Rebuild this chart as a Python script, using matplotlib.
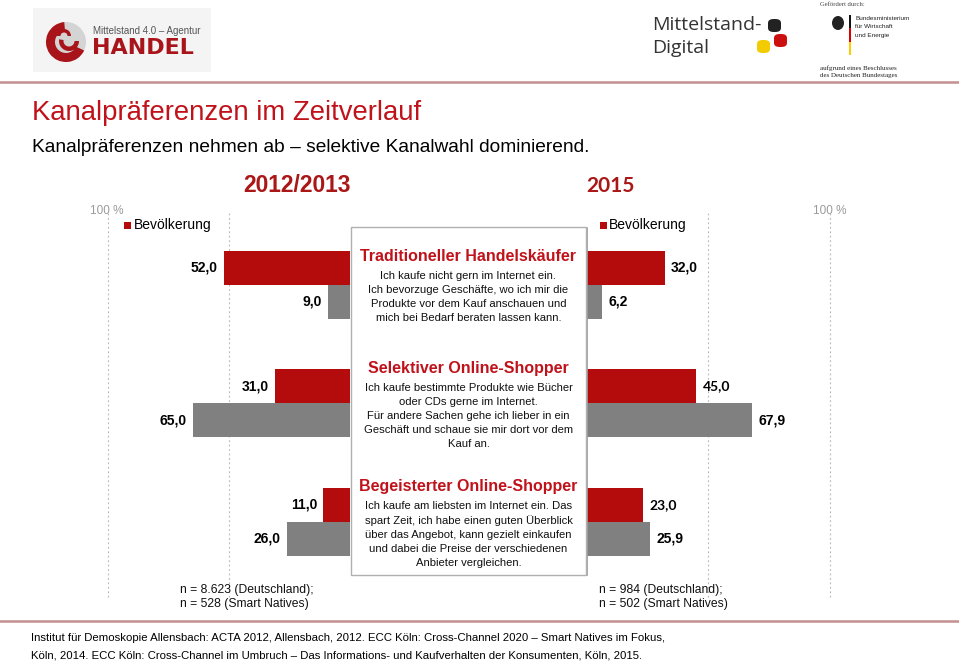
import matplotlib
matplotlib.use("Agg")
import matplotlib.pyplot as plt
from matplotlib.patches import Rectangle, Wedge, FancyBboxPatch, Ellipse, Circle
from matplotlib.lines import Line2D

plt.rcParams['font.family'] = ['Liberation Sans', 'DejaVu Sans']

# Data
segments = ["Traditioneller Handelskäufer", "Selektiver Online-Shopper", "Begeisterter Online-Shopper"]
descriptions = [
    "Ich kaufe nicht gern im Internet ein.\nIch bevorzuge Geschäfte, wo ich mir die\n"
    "Produkte vor dem Kauf anschauen und\nmich bei Bedarf beraten lassen kann.",
    "Ich kaufe bestimmte Produkte wie Bücher\noder CDs gerne im Internet.\n"
    "Für andere Sachen gehe ich lieber in ein\nGeschäft und schaue sie mir dort vor dem\nKauf an.",
    "Ich kaufe am liebsten im Internet ein. Das\nspart Zeit, ich habe einen guten Überblick\n"
    "über das Angebot, kann gezielt einkaufen\nund dabei die Preise der verschiedenen\nAnbieter vergleichen.",
]
bev_2012 = [52.0, 31.0, 11.0]
smart_2012 = [9.0, 65.0, 26.0]
bev_2015 = [32.0, 45.0, 23.0]
smart_2015 = [6.2, 67.9, 25.9]
n_2012 = "n = 8.623 (Deutschland);\nn = 528 (Smart Natives)"
n_2015 = "n = 984 (Deutschland);\nn = 502 (Smart Natives)"

RED = '#b40c0c'
GRAY = '#808080'
TITLE_RED = '#c0121a'

W, H = 959, 663
fig = plt.figure(figsize=(W / 100, H / 100), dpi=100)


def fx(x):
    return x / W


def fy(y):
    return 1 - y / H


def ftext(x, y, s, **kw):
    return fig.text(fx(x), fy(y), s, **kw)


# ---------- header logos ----------
fig.add_artist(Rectangle((fx(33), fy(72)), fx(178), 64 / H, transform=fig.transFigure,
                         color='#f4f4f4', lw=0, zorder=0))
ax_logo = fig.add_axes([fx(44), fy(64), 44 / W, 44 / H], zorder=2)
ax_logo.set_xlim(-22, 22)
ax_logo.set_ylim(-22, 22)
ax_logo.set_aspect('equal')
ax_logo.axis('off')
ax_logo.add_patch(Circle((0, 0), 20, color='#d4d4d4', lw=0))
ax_logo.add_patch(Wedge((0, 0), 20, 95, 335, width=9, color='#a8141a', lw=0))
ax_logo.add_patch(Wedge((3, 1), 10, 170, 360, width=4.5, color='#a8141a', lw=0))
ax_logo.add_patch(Wedge((-2, 6), 7, 0, 180, width=3.5, color='#a8141a', lw=0))
ftext(93, 31, "Mittelstand 4.0 – Agentur", fontsize=7, color='#555555', va='center')
ftext(92, 48, "HANDEL", fontsize=16, fontweight='bold', color='#a8141a', va='center',
      family=['DejaVu Sans'])

ftext(652, 25, "Mittelstand-", fontsize=14, color='#333333', va='center',
      family=['Open Sans', 'DejaVu Sans'])
ftext(652, 48, "Digital", fontsize=14, color='#333333', va='center',
      family=['Open Sans', 'DejaVu Sans'])
for (x0, y0, col) in [(768, 19, '#222222'), (774, 34, '#cc1010'), (757, 40, '#f2cc00')]:
    fig.add_artist(FancyBboxPatch((fx(x0), fy(y0 + 13)), 13 / W, 13 / H,
                                  boxstyle="round,pad=0,rounding_size=0.006",
                                  transform=fig.transFigure, color=col, lw=0))

ftext(820, 4, "Gefördert durch:", fontsize=4.8, color='#444444', va='center',
      family=['Liberation Serif', 'DejaVu Serif'])
fig.add_artist(Ellipse((fx(838), fy(23)), 12 / W, 14 / H, transform=fig.transFigure,
                       color='#222222', lw=0))
for (y0, y1, col) in [(15, 28, '#111111'), (28, 42, '#dd0000'), (42, 55, '#ffcc00')]:
    fig.add_artist(Rectangle((fx(849), fy(y1)), 2 / W, (y1 - y0) / H,
                             transform=fig.transFigure, color=col, lw=0))
for i, s in enumerate(["Bundesministerium", "für Wirtschaft", "und Energie"]):
    ftext(855, 19 + 8 * i, s, fontsize=4.6, color='#222222', va='center')
ftext(820, 68, "aufgrund eines Beschlusses", fontsize=5, color='#222222', va='center',
      family=['Liberation Serif', 'DejaVu Serif'])
ftext(820, 76, "des Deutschen Bundestages", fontsize=5, color='#222222', va='center',
      family=['Liberation Serif', 'DejaVu Serif'])

for yl in (82, 621):
    fig.add_artist(Line2D([0, 1], [fy(yl), fy(yl)], transform=fig.transFigure,
                          color='#c48f8f', lw=1.8))

# ---------- titles ----------
ftext(32, 113, "Kanalpräferenzen im Zeitverlauf", fontsize=19.8, color=TITLE_RED, va='center')
ftext(32, 147, "Kanalpräferenzen nehmen ab – selektive Kanalwahl dominierend.",
      fontsize=13.8, color='black', va='center')
ftext(243, 186, "2012/2013", fontsize=16.4, fontweight='bold', color='#aa1717', va='center')
ftext(586, 186, "2015", fontsize=15, fontweight='bold', color='#aa1717', va='center',
      family=['Lato', 'DejaVu Sans'])

# ---------- bar charts ----------
ax1 = fig.add_axes([fx(96), fy(597), (350 - 96) / W, (597 - 205) / H])
ax2 = fig.add_axes([fx(587), fy(597), (842 - 587) / W, (597 - 205) / H])
ax1.set_xlim(105, 0)
ax2.set_xlim(0, 105)
rows = list(range(len(segments)))
bh = 0.287
for ax, bev, smart in [(ax1, bev_2012, smart_2012), (ax2, bev_2015, smart_2015)]:
    ax.set_ylim(2.633, -0.675)
    ax.axis('off')
    ax.barh([i - bh / 2 for i in rows], bev, height=bh, color=RED, zorder=2)
    ax.barh([i + bh / 2 for i in rows], smart, height=bh, color=GRAY, zorder=2)
    for v in (50, 100):
        ax.axvline(v, ymin=0.0, ymax=0.985, color='#b5b5b5', lw=0.8,
                   linestyle=(0, (1.5, 2.5)), clip_on=False, zorder=1)

ax2.axvline(0, ymin=0.056, ymax=0.941, color='#9a9a9a', lw=1.2, zorder=3)

lab_kw = dict(fontsize=10, fontweight='bold', va='center', textcoords='offset points',
              annotation_clip=False)
for i in rows:
    ax1.annotate(f"{bev_2012[i]:.1f}".replace('.', ','), (bev_2012[i], i - bh / 2),
                 xytext=(-4.5, 0), ha='right', **lab_kw)
    ax1.annotate(f"{smart_2012[i]:.1f}".replace('.', ','), (smart_2012[i], i + bh / 2),
                 xytext=(-4.5, 0), ha='right', **lab_kw)
    fam = ['Lato', 'DejaVu Sans'] if i > 0 else ['Liberation Sans', 'DejaVu Sans']
    ax2.annotate(f"{bev_2015[i]:.1f}".replace('.', ','), (bev_2015[i], i - bh / 2),
                 xytext=(4.5, 0), ha='left', family=fam, **lab_kw)
    ax2.annotate(f"{smart_2015[i]:.1f}".replace('.', ','), (smart_2015[i], i + bh / 2),
                 xytext=(4.5, 0), ha='left', **lab_kw)

# "100 %" marks and legends
ftext(107, 211, "100 %", fontsize=8.5, color='#9a9a9a', ha='center', va='center')
ftext(830, 211, "100 %", fontsize=8.5, color='#9a9a9a', ha='center', va='center')
for (xs, xt) in [(124, 134), (600, 609)]:
    fig.add_artist(Rectangle((fx(xs), fy(229)), 7 / W, 7 / H, transform=fig.transFigure,
                             color=RED, lw=0))
    ftext(xt, 225, "Bevölkerung", fontsize=10, color='black', va='center')

# ---------- description box ----------
fig.add_artist(Rectangle((fx(351), fy(575)), (586 - 351) / W, (575 - 227) / H,
                         transform=fig.transFigure, facecolor='white',
                         edgecolor='#b0b0b0', lw=1.0, zorder=4))
title_y = [257, 368, 486]
body_y = [271, 383, 501]
for i in rows:
    ftext(468.5, title_y[i], segments[i], fontsize=11.5, fontweight='bold', color=TITLE_RED,
          ha='center', va='center', zorder=5)
    ftext(468.5, body_y[i], descriptions[i], fontsize=8.1, color='#111111', ha='center',
          va='top', linespacing=1.5, zorder=5)

# ---------- footer ----------
ftext(180, 597, n_2012, fontsize=8.7, color='#111111', va='center', linespacing=1.25)
ftext(599, 597, n_2015, fontsize=8.7, color='#111111', va='center', linespacing=1.25)
ftext(31, 638, "Institut für Demoskopie Allensbach: ACTA 2012, Allensbach, 2012. ECC Köln: "
      "Cross-Channel 2020 – Smart Natives im Fokus,", fontsize=8.2, color='black', va='center')
ftext(31, 656, "Köln, 2014. ECC Köln: Cross-Channel im Umbruch – Das Informations- und "
      "Kaufverhalten der Konsumenten, Köln, 2015.", fontsize=8.2, color='black', va='center')

fig.savefig("out.png", dpi=100)
